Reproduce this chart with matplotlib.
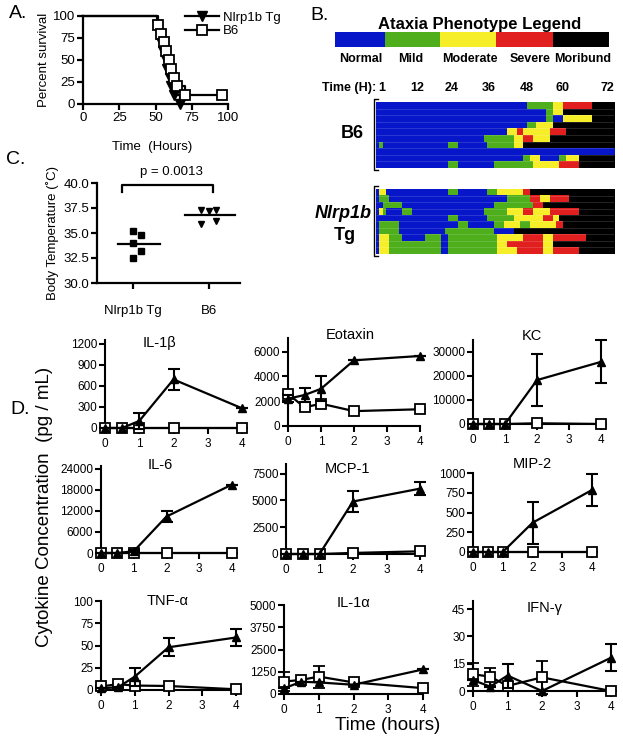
import numpy as np
import matplotlib.pyplot as plt
from matplotlib.colors import ListedColormap
from matplotlib.lines import Line2D

plt.rcParams['font.family'] = ['Liberation Sans', 'DejaVu Sans']

W, H = 623, 743

# ---------------- data ----------------
# A: survival (hours of death), B6 has one censored animal
tg_death_h = [51, 53, 54, 55, 57, 58, 60, 61, 63, 67]
b6_death_h = [52, 54, 56, 57, 59, 61, 63, 65, 70]
b6_censor_h = [96]

# B: ataxia score per mouse, as runs of (score, end hour)
phenotypes = ['Normal', 'Mild', 'Moderate', 'Severe', 'Moribund']
pheno_colors = ['#0616c8', '#4fae1c', '#f7ee2a', '#e11f1f', '#000000']
time_labels = [1, 12, 24, 36, 48, 60, 72]
b6_runs = [
    [(0, 46), (1, 54), (2, 57), (3, 66), (4, 73)],
    [(0, 52), (1, 54), (2, 57), (4, 73)],
    [(0, 52), (1, 54), (0, 57), (2, 66), (4, 73)],
    [(0, 46), (1, 49), (2, 54), (4, 73)],
    [(0, 40), (2, 43), (3, 45), (2, 53), (3, 58), (4, 73)],
    [(0, 33), (1, 42), (2, 45), (3, 48), (2, 53), (4, 73)],
    [(0, 1), (1, 2), (0, 22), (1, 25), (0, 34), (1, 42), (2, 45), (4, 73)],
    [(0, 73)],
    [(0, 45), (1, 47), (2, 50), (0, 56), (1, 58), (2, 62), (4, 73)],
    [(0, 22), (1, 25), (0, 36), (1, 48), (2, 56), (3, 62), (4, 73)],
]
tg_runs = [
    [(0, 1), (2, 3), (0, 22), (1, 25), (0, 34), (1, 37), (2, 45), (3, 47), (4, 73)],
    [(0, 1), (1, 4), (0, 40), (1, 47), (3, 50), (2, 53), (3, 59), (4, 73)],
    [(0, 2), (1, 8), (0, 36), (1, 48), (3, 51), (4, 73)],
    [(0, 1), (2, 2), (1, 3), (0, 8), (1, 11), (0, 33), (1, 40), (2, 45), (3, 48), (2, 53), (3, 62), (4, 73)],
    [(0, 22), (1, 25), (0, 34), (1, 42), (2, 51), (3, 54), (2, 56), (4, 73)],
    [(0, 1), (1, 7), (0, 25), (1, 28), (0, 36), (1, 39), (2, 44), (1, 47), (2, 55), (3, 57), (4, 73)],
    [(0, 1), (1, 7), (0, 21), (1, 36), (0, 42), (4, 73)],
    [(0, 1), (2, 4), (1, 8), (0, 15), (1, 20), (0, 22), (1, 37), (2, 45), (3, 51), (2, 54), (3, 64), (4, 73)],
    [(0, 1), (2, 4), (1, 20), (0, 22), (1, 37), (2, 40), (3, 51), (2, 54), (4, 73)],
    [(0, 1), (2, 4), (1, 20), (0, 22), (1, 37), (2, 43), (3, 51), (2, 54), (3, 62), (4, 73)],
]

# C: body temperature
temp_tg = [35.2, 34.8, 34.0, 33.2, 32.5]
temp_b6 = [37.3, 37.2, 37.3, 36.2, 35.9]
p_value = 'p = 0.0013'

# D: cytokines, hours after challenge
hours = [0, 0.5, 1, 2, 4]
cytokines = ['IL-1\u03b2', 'Eotaxin', 'KC', 'IL-6', 'MCP-1', 'MIP-2',
             'TNF-\u03b1', 'IL-1\u03b1', 'IFN-\u03b3']
tg_mean = [
    [0, 0, 100, 690, 280],
    [2200, 2500, 3000, 5300, 5650],
    [0, 0, 0, 18300, 25900],
    [0, 0, 500, 10400, 19500],
    [0, 0, 0, 4900, 6100],
    [0, 0, 0, 370, 785],
    [2, 3, 15, 48, 59],
    [320, 690, 650, 520, 1380],
    [6, 2.4, 8.5, 0, 18.3],
]
tg_err = [
    [0, 0, 110, 150, 0],
    [300, 600, 1000, 0, 0],
    [0, 0, 0, 10700, 8900],
    [0, 0, 300, 1500, 0],
    [0, 0, 0, 1000, 600],
    [0, 0, 0, 265, 205],
    [0, 0, 10, 10, 10],
    [0, 0, 0, 0, 0],
    [0, 0, 6.6, 0, 7.3],
]
b6_mean = [
    [0, 0, 0, 0, 0],
    [2600, 1500, 1800, 1200, 1350],
    [0, 0, 0, 300, 0],
    [0, 0, 0, 0, 0],
    [0, 0, 0, 100, 250],
    [0, 0, 0, 0, 0],
    [4, 6.5, 5, 4.5, 0.8],
    [700, 790, 980, 650, 330],
    [9.2, 7.9, 2.8, 7.5, 0],
]
b6_err = [
    [0, 0, 0, 0, 0],
    [0, 200, 200, 0, 0],
    [0, 0, 0, 0, 0],
    [0, 0, 0, 0, 0],
    [0, 0, 0, 0, 0],
    [0, 0, 0, 0, 0],
    [0, 0, 0, 0, 0],
    [520, 0, 620, 0, 0],
    [6.4, 5, 0, 9, 0],
]
y_ticks = [
    [0, 300, 600, 900, 1200],
    [0, 2000, 4000, 6000],
    [0, 10000, 20000, 30000],
    [0, 6000, 12000, 18000, 24000],
    [0, 2500, 5000, 7500],
    [0, 250, 500, 750, 1000],
    [0, 25, 50, 75, 100],
    [0, 1250, 2500, 3750, 5000],
    [0, 15, 30, 45],
]
y_top = [1250, 7100, 35000, 24800, 8400, 1000, 100, 5000, 49.5]

# ---------------- layout helpers ----------------
fig = plt.figure(figsize=(W / 100, H / 100), dpi=100)


def px_axes(l, r, t, b):
    return fig.add_axes([l / W, 1 - b / H, (r - l) / W, (b - t) / H])


def ftext(x, y, s, **kw):
    kw.setdefault('ha', 'center')
    kw.setdefault('va', 'center')
    fig.text(x / W, 1 - y / H, s, **kw)


def prism(ax, fs, lw=1.6):
    for s in ['top', 'right']:
        ax.spines[s].set_visible(False)
    for s in ['left', 'bottom']:
        ax.spines[s].set_linewidth(lw)
    ax.tick_params(direction='out', length=4, width=lw, labelsize=fs, pad=1.5)


# ---------------- A ----------------
axA = px_axes(83, 228, 16, 104)
prism(axA, 9.5)


def km(deaths, n):
    t = [0] + list(deaths)
    s = [100 * (1 - k / n) for k in range(len(t))]
    return t, s


t, s = km(tg_death_h, 10)
axA.plot(t, s, drawstyle='steps-post', color='k', lw=1.6, clip_on=False)
axA.plot(t[1:], s[1:], 'v', color='k', ms=6.5, clip_on=False)
t, s = km(b6_death_h, 10)
t2 = t + b6_censor_h
s2 = s + [s[-1]]
axA.plot(t2, s2, drawstyle='steps-post', color='k', lw=1.6, clip_on=False)
axA.plot(t2[1:], s2[1:], 's', mfc='white', mec='k', mew=1.3, ms=7.5, clip_on=False)
axA.set_xlim(0, 100)
axA.set_ylim(0, 100)
axA.set_xticks([0, 25, 50, 75, 100])
axA.set_yticks([0, 25, 50, 75, 100])
axA.set_ylabel('Percent survival', fontsize=9.5, labelpad=2)
ftext(152, 147, 'Time  (Hours)', fontsize=9.5)
ftext(18, 14, 'A.', fontsize=14)
fig.legend(handles=[Line2D([], [], color='k', marker='v', ms=7.5, lw=1.6),
                    Line2D([], [], color='k', marker='s', mfc='white', mew=1.3, ms=7.5, lw=1.6)],
           labels=['Nlrp1b Tg', 'B6'], loc='upper left', bbox_to_anchor=(178 / W, 1 - 5 / H),
           frameon=False, fontsize=9.5, handlelength=2.6, handletextpad=0.3,
           labelspacing=0.1, borderpad=0)

# ---------------- B ----------------
ftext(320, 15, 'B.', fontsize=14)
ftext(480, 24, 'Ataxia Phenotype Legend', fontsize=12, fontweight='bold')
axL = px_axes(335, 609, 32, 47)
bounds = [0, 50, 105, 161, 218, 274]
for i, c in enumerate(pheno_colors):
    axL.axvspan(bounds[i], bounds[i + 1], color=c, lw=0)
axL.set_xlim(0, 274)
axL.set_axis_off()
label_x = [361, 411, 470, 530, 583]
for x, name in zip(label_x, phenotypes):
    ftext(x, 59, name, fontsize=9, fontweight='bold')

cmap = ListedColormap(pheno_colors)


def runs_to_matrix(runs, ncol=73):
    m = np.zeros((len(runs), ncol))
    for i, row in enumerate(runs):
        start = 0
        for score, end in row:
            m[i, start:end] = score
            start = end
    return m


for runs, (t0, b0) in [(b6_runs, (102, 168)), (tg_runs, (189, 254))]:
    ax = px_axes(376, 614, t0, b0)
    ax.imshow(runs_to_matrix(runs), cmap=cmap, vmin=-0.5, vmax=4.5, aspect='auto',
              interpolation='nearest', extent=[0, 73, len(runs), 0])
    ax.hlines(np.arange(1, len(runs)), 0, 73, color='white', lw=0.4, alpha=0.25)
    ax.set_xlim(0, 73)
    ax.set_axis_off()
    # bracket
    fig.add_artist(Line2D([378 / W, 374 / W, 374 / W, 378 / W],
                          [1 - (t0 - 3) / H, 1 - (t0 - 3) / H, 1 - (b0 + 2) / H, 1 - (b0 + 2) / H],
                          color='k', lw=1.0))

for h, x in zip(time_labels, [382, 417, 452, 489, 527, 563, 607]):
    ftext(x, 88, str(h), fontsize=9, fontweight='bold')
ftext(376, 88, 'Time (H):', fontsize=9, fontweight='bold', ha='right')
ftext(352, 133, 'B6', fontsize=13, fontweight='bold')
ftext(372, 213, 'Nlrp1b', fontsize=13, fontweight='bold', style='italic', ha='right')
ftext(345, 235, 'Tg', fontsize=13, fontweight='bold')

# ---------------- C ----------------
ftext(16, 160, 'C.', fontsize=14)
axC = px_axes(97, 240, 183, 283)
prism(axC, 9.5)
axC.plot([1, 1.22, 1, 1.22, 1], temp_tg, 's', color='k', ms=5, clip_on=False)
axC.plot([2.8, 3.0, 3.2, 3.2, 2.8], temp_b6, 'v', color='k', ms=5, clip_on=False)
axC.plot([0.6, 1.7], [np.mean(temp_tg)] * 2, color='k', lw=1.6)
axC.plot([2.37, 3.7], [np.mean(temp_b6)] * 2, color='k', lw=1.6)
axC.plot([0.7, 0.7, 3.1, 3.1], [39.1, 39.8, 39.8, 39.1], color='k', lw=1.6, clip_on=False)
axC.text(2.0, 40.5, p_value, ha='center', va='bottom', fontsize=9.5)
axC.set_xlim(0.05, 3.82)
axC.set_ylim(30, 40)
axC.set_yticks([30, 32.5, 35, 37.5, 40])
axC.set_yticklabels(['30.0', '32.5', '35.0', '37.5', '40.0'])
axC.set_xticks([1, 3])
axC.set_xticklabels(['Nlrp1b Tg', 'B6'], fontsize=9.5)
axC.tick_params(axis='x', pad=12)
axC.set_ylabel('Body Temperature (\u02daC)', fontsize=9.5, labelpad=3)

# ---------------- D ----------------
ftext(20, 410, 'D.', fontsize=14)
boxes = [
    (105, 242, 428, 340), (288, 420, 426, 338), (473, 601, 424, 340),
    (101, 232, 553, 466), (286, 420, 554, 464), (473, 592, 552, 473),
    (101, 236, 690, 601), (284, 423, 694, 605), (473, 611, 691, 601),
]
title_pos = [(160, 343), (350, 335), (532, 336), (160, 465), (348, 469), (532, 464),
             (168, 601), (353, 603), (545, 608)]
for i in range(9):
    l, r, b, t = boxes[i]
    ax = px_axes(l, r, t, b)
    prism(ax, 8.5, lw=1.5)
    ax.errorbar(hours, b6_mean[i], yerr=b6_err[i], color='k', lw=1.6, marker='s', ms=7,
                mfc='white', mec='k', mew=1.3, capsize=4, capthick=1.5, elinewidth=1.5,
                clip_on=False, zorder=3)
    ax.errorbar(hours, tg_mean[i], yerr=tg_err[i], color='k', lw=1.6, marker='^', ms=6,
                capsize=4, capthick=1.5, elinewidth=1.5, clip_on=False, zorder=4)
    ax.set_xlim(0, 4)
    ax.set_ylim(0, y_top[i])
    ax.set_xticks([0, 1, 2, 3, 4])
    ax.set_yticks(y_ticks[i])
    ax.tick_params(axis='x', pad=3)
    ftext(title_pos[i][0], title_pos[i][1], cytokines[i], fontsize=10.5)

ftext(45, 507, 'Cytokine Concentration  (pg / mL)', fontsize=13.5, rotation=90)
ftext(388, 726, 'Time (hours)', fontsize=13.5)

fig.savefig('out.png', dpi=100)
